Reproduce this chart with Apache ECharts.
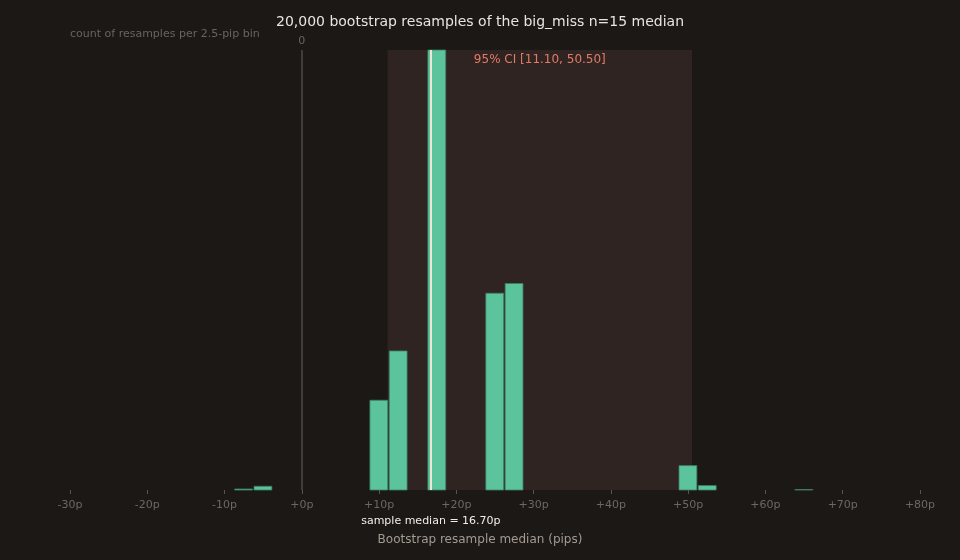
<!DOCTYPE html>
<html>
<head>
<meta charset="utf-8">
<script src="https://cdn.jsdelivr.net/npm/echarts@6/dist/echarts.min.js"></script>
<style>
  html, body { margin: 0; padding: 0; background: #1c1816; }
  #chart { width: 960px; height: 560px; }
</style>
</head>
<body>
<div id="chart"></div>
<script>
// bootstrap histogram, 2.5-pip bins
const binCenters = [-7.5, -5, 10, 12.5, 17.5, 25, 27.5, 50, 52.5, 65];
const binCounts = [18, 67, 1623, 2514, 7956, 3558, 3734, 441, 80, 9];
const binWidth = 2.5;
const sampleMedian = 16.7;
const ciLow = 11.10;
const ciHigh = 50.50;
const xMin = -30;
const xMax = 80;
const xStep = 10;

const font = 'DejaVu Sans';
const chart = echarts.init(document.getElementById('chart'));

const fmtPip = (v) => (v < 0 ? '' : '+') + v + 'p';

const option = {
    backgroundColor: '#1c1816',
    animation: false,
    title: {
        text: '20,000 bootstrap resamples of the big_miss n=15 median',
        left: 'center',
        top: 10,
        textStyle: { color: '#e9e4de', fontSize: 14, fontWeight: 'normal', fontFamily: font }
    },
    grid: { left: 70, right: 40, top: 50, bottom: 70 },
    xAxis: {
        type: 'value',
        min: xMin,
        max: xMax,
        interval: xStep,
        name: 'Bootstrap resample median (pips)',
        nameLocation: 'middle',
        nameGap: 44,
        nameTextStyle: { color: '#a39a92', fontSize: 12, fontFamily: font, padding: [0, 30, 0, 0] },
        axisLine: { show: false, onZero: false },
        axisTick: { show: true, length: 4, lineStyle: { color: '#5a5450' } },
        axisLabel: { color: '#6e6761', fontSize: 11, fontFamily: font, margin: 10, formatter: fmtPip },
        splitLine: { show: false }
    },
    yAxis: {
        type: 'value',
        min: 0,
        max: Math.max(...binCounts),
        name: 'count of resamples per 2.5-pip bin',
        nameLocation: 'end',
        nameGap: 10,
        nameTextStyle: { color: '#6a635e', fontSize: 11, fontFamily: font, align: 'left' },
        axisLine: { show: false, onZero: false },
        axisTick: { show: false },
        axisLabel: { show: false },
        splitLine: { show: false }
    },
    series: [{
        type: 'custom',
        data: binCenters.map((c, i) => [c, binCounts[i]]),
        encode: { x: 0, y: 1 },
        renderItem: function(params, api) {
            const x = api.value(0);
            const c = api.value(1);
            const p0 = api.coord([x - binWidth / 2, c]);
            const p1 = api.coord([x + binWidth / 2, 0]);
            return {
                type: 'rect',
                shape: { x: p0[0] + 0.5, y: p0[1], width: p1[0] - p0[0] - 1.5, height: p1[1] - p0[1] },
                style: { fill: '#5cc49c', stroke: '#3d7f66', lineWidth: 0.8 }
            };
        },
        markArea: {
            silent: true,
            itemStyle: { color: '#2f2421' },
            label: {
                show: true,
                position: 'insideTop',
                distance: 4,
                color: '#e07b66',
                fontSize: 12,
                fontFamily: font,
                formatter: '95% CI [' + ciLow.toFixed(2) + ', ' + ciHigh.toFixed(2) + ']'
            },
            data: [[{ xAxis: ciLow }, { xAxis: ciHigh }]]
        },
        markLine: {
            silent: true,
            symbol: 'none',
            data: [
                {
                    xAxis: 0,
                    lineStyle: { color: '#4f4844', width: 1.5, type: 'solid' },
                    label: { show: true, position: 'end', distance: 3, formatter: '0', color: '#6a635e', fontSize: 11, fontFamily: font }
                },
                {
                    xAxis: sampleMedian,
                    lineStyle: { color: '#efe6d6', width: 2, type: 'solid' },
                    label: {
                        show: true,
                        position: 'start',
                        distance: 26,
                        formatter: 'sample median = ' + sampleMedian.toFixed(2) + 'p',
                        color: '#f2ede6',
                        fontSize: 11,
                        fontFamily: font
                    }
                }
            ]
        }
    }]
};

chart.setOption(option);
</script>
</body>
</html>
